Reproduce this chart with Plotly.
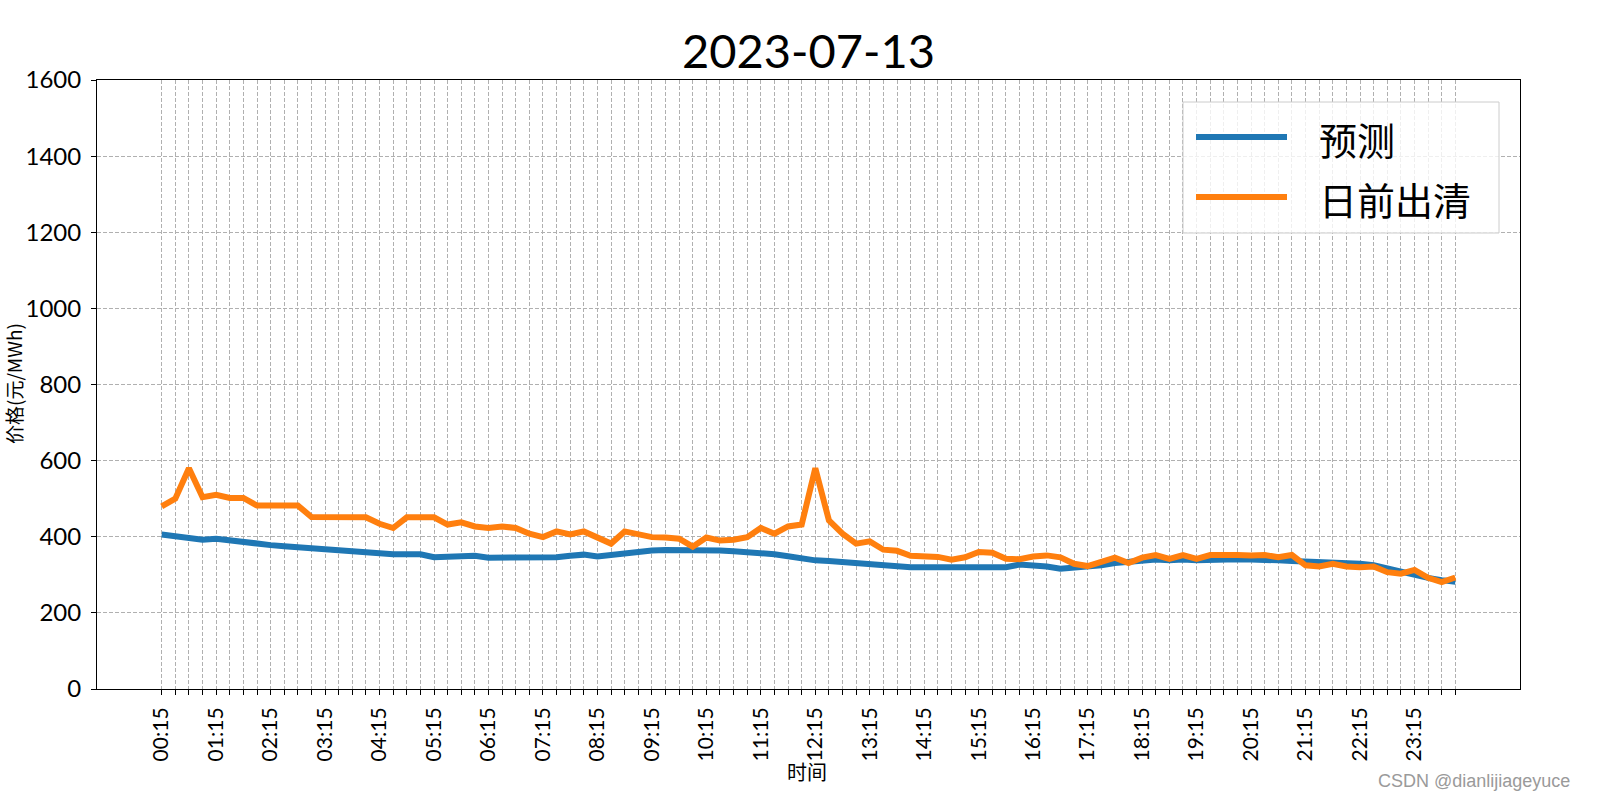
import plotly.graph_objects as go

# ---- data ----
times = [f"{m // 60:02d}:{m % 60:02d}" for m in range(15, 1441, 15)]
tick_text = [t if i % 4 == 0 else "" for i, t in enumerate(times)]

forecast = [406, 401, 396, 392, 395, 390, 386, 382, 378, 375,
            372, 369, 366, 363, 360, 358, 356, 354, 354, 354,
            346, 348, 349, 350, 345, 345,
            345, 344, 343, 346, 350, 353, 348, 352, 357, 361,
            364, 365, 365, 366, 366, 364, 362, 360, 357, 354,
            349, 343, 338, 336, 333, 332, 328, 324, 321,
            320, 320, 320, 320, 321, 322, 321, 320, 327, 326,
            322, 316, 319, 319, 325, 331, 335, 338, 340, 338, 340,
            338, 340, 341, 341, 340, 340, 338, 336, 335, 333,
            332, 331, 329, 325, 316, 310, 302, 292, 286, 282]

dayahead = [480, 500, 580, 504, 510, 502, 502, 482, 482, 482,
            482, 452, 452, 451, 451, 451, 434, 423, 451, 451,
            451, 432, 438, 427, 423, 427,
            423, 408, 399, 414, 406, 414, 399, 382, 414, 406,
            399, 398, 395, 374, 398, 390, 392, 399, 423, 408,
            427, 432, 580, 443, 408, 382, 388, 366, 363,
            350, 348, 347, 340, 346, 360, 358, 342, 341, 348,
            351, 346, 329, 323, 333, 345, 331, 345, 352, 342, 352,
            342, 352, 353, 352, 351, 352, 346, 352, 325, 322,
            329, 322, 320, 322, 307, 303, 313, 292, 281, 293]

series_names = ["预测", "日前出清"]
colors = ["#1f77b4", "#ff7f0e"]
title_text = "2023-07-13"
x_title = "时间"
y_title = "价格(元/MWh)"
y_ticks = [0, 200, 400, 600, 800, 1000, 1200, 1400, 1600]

FONT = "Lato, 'Noto Sans CJK SC', sans-serif"
CJK = "'Noto Sans CJK SC', Lato, sans-serif"

fig = go.Figure()
for name, vals, c in zip(series_names, [forecast, dayahead], colors):
    fig.add_trace(go.Scatter(x=times, y=vals, mode="lines", name=name,
                             line=dict(color=c, width=6), showlegend=False))

# plot area: x 97..1520, y 80..689
L, R, T, B = 97, 80, 80, 111
W, H = 1600, 800
pw, ph = W - L - R, H - T - B


def px(x):
    return (x - L) / pw


def py(y):
    return (H - B - y) / ph


fig.update_layout(
    width=W, height=H,
    margin=dict(l=L, r=R, t=T, b=B, pad=0),
    paper_bgcolor="white", plot_bgcolor="white",
    title=dict(text=title_text, x=px(808.5), xref="paper", xanchor="center",
               y=1 - 52 / H, yref="container", yanchor="middle",
               font=dict(family=FONT, size=47, color="black")),
    font=dict(family=FONT, color="black"),
)

grid = dict(showgrid=True, gridcolor="#b0b0b0", gridwidth=0.8, griddash="4px,2px",
            showline=True, linecolor="black", linewidth=1, mirror=True,
            ticks="outside", ticklen=5, tickcolor="black", tickwidth=1,
            zeroline=False)

fig.update_xaxes(type="category", categoryorder="array", categoryarray=times,
                 tickmode="array", tickvals=times, ticktext=tick_text,
                 tickangle=-90, range=[-4.75, 99.75],
                 tickfont=dict(family=FONT, size=21, color="black"),
                 ticklabelstandoff=4, **grid)
fig.update_yaxes(range=[0, 1600], tickmode="array", tickvals=y_ticks,
                 tickfont=dict(family=FONT, size=24, color="black"),
                 ticklabelstandoff=5, **grid)

# axis titles
fig.add_annotation(text=x_title, xref="paper", yref="paper", x=px(807), y=py(771),
                   xanchor="center", yanchor="middle", showarrow=False,
                   font=dict(family=CJK, size=20, color="black"))
fig.add_annotation(text=y_title, xref="paper", yref="paper", x=px(14), y=py(384),
                   xanchor="center", yanchor="middle", showarrow=False, textangle=-90,
                   font=dict(family=CJK, size=19, color="black"))

# legend (drawn manually to match the long line samples)
fig.add_shape(type="rect", xref="paper", yref="paper",
              x0=px(1183), x1=px(1499), y0=py(233), y1=py(102),
              line=dict(color="#cccccc", width=1), fillcolor="rgba(255,255,255,0.8)",
              layer="above")
for i, (name, c) in enumerate(zip(series_names, colors)):
    yy = 137 + i * 60
    fig.add_shape(type="line", xref="paper", yref="paper",
                  x0=px(1196), x1=px(1287), y0=py(yy), y1=py(yy),
                  line=dict(color=c, width=6), layer="above")
    fig.add_annotation(text=name, xref="paper", yref="paper", x=px(1317), y=py(yy + 1),
                       xanchor="left", yanchor="middle", showarrow=False,
                       font=dict(family=CJK, size=38, color="black"))

# watermark
fig.add_annotation(text="CSDN @dianlijiageyuce", xref="paper", yref="paper",
                   x=px(1572), y=py(781), xanchor="right", yanchor="middle",
                   showarrow=False,
                   font=dict(family="'Liberation Sans Narrow', 'Liberation Sans', sans-serif",
                             size=18, color="#9a9a9a"))

fig.write_html("out.html")
